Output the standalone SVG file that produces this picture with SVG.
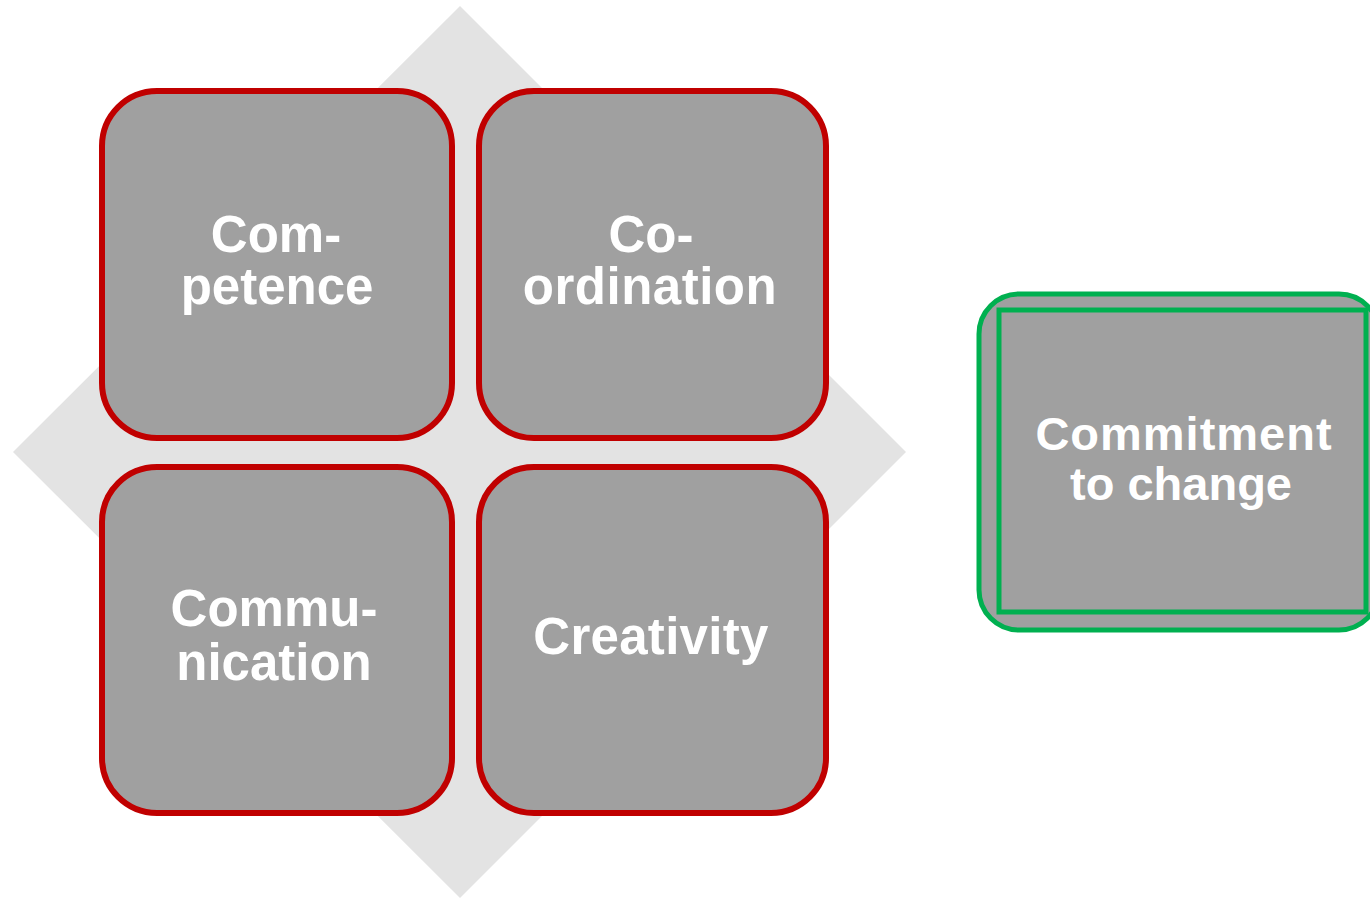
<svg xmlns="http://www.w3.org/2000/svg" width="1370" height="899" viewBox="0 0 1370 899">
<style>
.box{fill:#A0A0A0;stroke:#C00000;stroke-width:6}
.gbox{fill:#A0A0A0;stroke:#00B050;stroke-width:5}
.lbl{font-family:"Liberation Sans",Arial,sans-serif;font-weight:bold;font-size:51px;fill:#FFFFFF;text-anchor:middle}
.glbl{font-family:"Liberation Sans",Arial,sans-serif;font-weight:bold;font-size:47px;fill:#FFFFFF;text-anchor:middle}
</style>
<rect width="1370" height="899" fill="#FFFFFF"/>
<g id="background-diamond">
<polygon points="460,6 906,452 460,898 13,452" fill="#E3E3E3"/>
</g>
<g id="connectors"></g>
<g id="competence">
<rect class="box" x="102" y="91" width="350" height="347" rx="55" ry="55"/>
<text class="lbl" x="276" y="252">Com-</text>
<text class="lbl" x="277" y="304">petence</text>
</g>
<g id="coordination">
<rect class="box" x="479" y="91" width="347" height="347" rx="55" ry="55"/>
<text class="lbl" x="651" y="252">Co-</text>
<text class="lbl" x="650" y="304" letter-spacing="0.5">ordination</text>
</g>
<g id="communication">
<rect class="box" x="102" y="467" width="350" height="346" rx="55" ry="55"/>
<text class="lbl" x="274" y="626">Commu-</text>
<text class="lbl" x="274" y="680">nication</text>
</g>
<g id="creativity">
<rect class="box" x="479" y="467" width="347" height="346" rx="55" ry="55"/>
<text class="lbl" x="651" y="654" letter-spacing="0.3">Creativity</text>
</g>
<g id="commitment">
<rect class="gbox" x="979" y="294" width="400" height="336" rx="40" ry="40"/>
<rect class="gbox" x="999" y="310" width="367" height="302"/>
<text class="glbl" x="1184" y="450" letter-spacing="1">Commitment</text>
<text class="glbl" x="1181" y="500">to change</text>
</g>
</svg>
